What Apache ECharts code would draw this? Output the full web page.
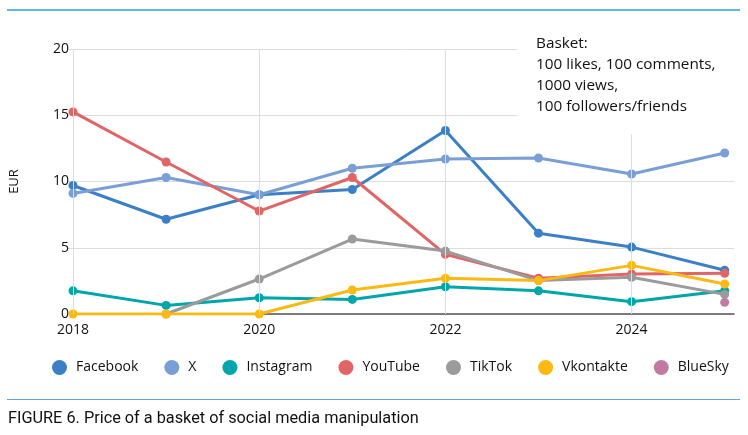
<!DOCTYPE html>
<html>
<head>
<meta charset="utf-8">
<script src="https://cdn.jsdelivr.net/npm/echarts@6/dist/echarts.min.js"></script>
<style>
html,body{margin:0;padding:0;background:#fff;}
#c{width:748px;height:435px;}
</style>
</head>
<body>
<div id="c"></div>
<script>
const years = [2018, 2019, 2020, 2021, 2022, 2023, 2024, 2025];
const xTicks = [2018, 2020, 2022, 2024];
const facebook  = [9.7, 7.15, 9.0, 9.4, 13.85, 6.1, 5.05, 3.3];
const xTwitter  = [9.1, 10.3, 9.0, 11.0, 11.7, 11.77, 10.57, 12.15];
const instagram = [1.75, 0.65, 1.23, 1.1, 2.06, 1.75, 0.93, 1.76];
const youtube   = [15.25, 11.47, 7.77, 10.3, 4.5, 2.7, 3.02, 3.07];
const tiktok    = [null, 0, 2.64, 5.66, 4.75, 2.52, 2.77, 1.48];
const vkontakte = [0, 0, 0, 1.81, 2.69, 2.52, 3.67, 2.26];
const bluesky   = [null, null, null, null, null, null, null, 0.88];
const basketLines = ['Basket:', '100 likes, 100 comments,', '1000 views,', '100 followers/friends'];
const caption = 'FIGURE 6. Price of a basket of social media manipulation';

const FONT = '"Open Sans", Lato, sans-serif';
const seriesDefs = [
  ['Facebook', facebook, '#3b80c6'],
  ['X', xTwitter, '#7a9ed6'],
  ['Instagram', instagram, '#00a6a9'],
  ['YouTube', youtube, '#e06666'],
  ['TikTok', tiktok, '#9b9b9b'],
  ['Vkontakte', vkontakte, '#fdb913'],
  ['BlueSky', bluesky, '#c27ba0']
];

const series = seriesDefs.map(([name, vals, color], i) => ({
  name: name,
  type: 'line',
  data: years.map((y, k) => [y, vals[k]]),
  connectNulls: false,
  symbol: 'circle',
  symbolSize: 9,
  showSymbol: true,
  itemStyle: {color: color},
  lineStyle: {color: color, width: 3},
  z: 3 + i * 0.1,
  emphasis: {disabled: true}
}));

series.push({
  name: 'grid',
  type: 'line',
  data: [],
  silent: true,
  z: 1,
  markLine: {
    silent: true,
    symbol: 'none',
    label: {show: false},
    lineStyle: {color: '#dddddd', width: 1, type: 'solid'},
    data: xTicks.map(t => ({xAxis: t}))
  }
});

const chart = echarts.init(document.getElementById('c'), null, {renderer: 'canvas'});
chart.setOption({
  animation: false,
  backgroundColor: '#fff',
  textStyle: {fontFamily: FONT},
  grid: {left: 73, right: 14, top: 49, bottom: 121},
  xAxis: {
    type: 'value',
    min: 2018,
    max: 2025.1,
    interval: 2,
    splitLine: {show: false},
    axisTick: {show: false},
    axisLine: {lineStyle: {color: '#555', width: 1.5}},
    axisLabel: {
      color: '#111', fontSize: 14, fontFamily: FONT, margin: 9,
      formatter: v => xTicks.includes(v) ? String(v) : ''
    }
  },
  yAxis: {
    type: 'value',
    min: 0, max: 20, interval: 5,
    name: 'EUR',
    nameLocation: 'middle',
    nameGap: 52,
    nameTextStyle: {color: '#111', fontSize: 13, fontFamily: FONT},
    axisLine: {show: false},
    axisTick: {show: true, length: 6, lineStyle: {color: '#dddddd'}},
    splitLine: {lineStyle: {color: '#dddddd', width: 1}},
    axisLabel: {color: '#111', fontSize: 14, fontFamily: FONT, margin: 4}
  },
  legend: {
    left: 47,
    top: 355,
    icon: 'circle',
    itemWidth: 15,
    itemHeight: 15,
    itemGap: 26,
    data: seriesDefs.map(s => s[0]),
    textStyle: {color: '#111', fontSize: 14, fontFamily: FONT, padding: [0, 0, 0, 4]}
  },
  graphic: [
    {type: 'line', shape: {x1: 7, y1: 10, x2: 740, y2: 10}, style: {stroke: '#2aa0d8', lineWidth: 1.5}},
    {type: 'line', shape: {x1: 7, y1: 399.5, x2: 740, y2: 399.5}, style: {stroke: '#5ba6db', lineWidth: 1.2}},
    {type: 'text', left: 8, top: 411, style: {text: caption, fill: '#111', font: '16.3px Roboto, sans-serif'}},
    {type: 'rect', z: 20, shape: {x: 517, y: 30, width: 231, height: 104}, style: {fill: '#fff'}},
    {type: 'text', z: 21, left: 536, top: 33, style: {text: basketLines.join('\n'), fill: '#111', font: '15.3px ' + FONT, lineHeight: 21}}
  ],
  series: series
});
</script>
</body>
</html>
